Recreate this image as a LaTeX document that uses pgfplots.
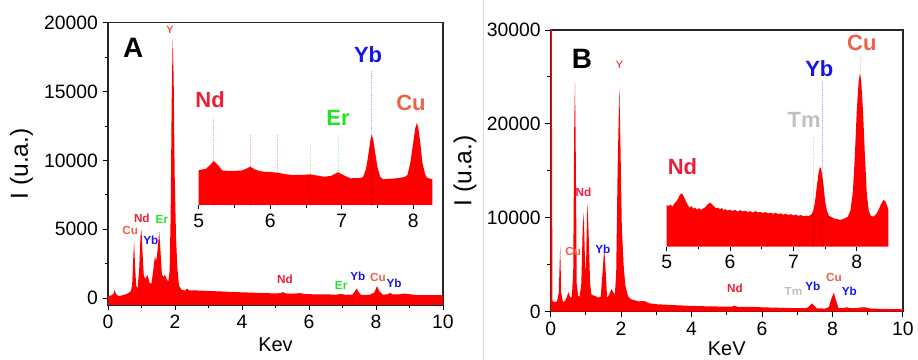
\documentclass[border=0pt]{standalone}
\usepackage{pgfplots}
\pgfplotsset{compat=1.18}
\usepackage{fontspec}
\setmainfont{Liberation Sans}
\definecolor{ndc}{RGB}{232,32,58}
\definecolor{cuc}{RGB}{235,98,72}
\definecolor{ybc}{RGB}{22,22,232}
\definecolor{erc}{RGB}{34,228,34}
\definecolor{tmc}{RGB}{192,192,192}
\definecolor{sepc}{RGB}{220,220,220}
\pgfplotsset{
  mainax/.style={scale only axis, anchor=south west, xmin=0, xmax=10,
    xtick={0,2,...,10}, minor x tick num=1, minor y tick num=1,
    tick align=outside, tick pos=left, major tick length=4pt, minor tick length=2.5pt,
    axis line style={line width=0.9pt, black!85},
    every tick/.style={black, line width=0.7pt},
    ticklabel style={font=\fontsize{14.5}{16}\selectfont},
    /pgf/number format/1000 sep={}, /pgf/number format/assume math mode=true,
    scaled y ticks=false,
    xlabel style={font=\fontsize{15}{17}\selectfont, anchor=center},
    ylabel style={font=\fontsize{18.5}{20}\selectfont, anchor=center}},
  insax/.style={scale only axis, anchor=south west, ymin=0,
    axis x line*=bottom, hide y axis, x axis line style={draw=none},
    minor x tick num=1, tick align=outside, major tick length=3pt, minor tick length=2pt,
    every tick/.style={black, line width=0.6pt},
    ticklabel style={font=\fontsize{14.5}{16}\selectfont},
    /pgf/number format/assume math mode=true, clip=false},
}
\tikzset{
  lab/.style={font=\fontsize{8.8}{10}\selectfont\bfseries, anchor=center, inner sep=0pt},
  blab/.style={font=\fontsize{16.5}{18}\selectfont\bfseries, anchor=center, inner sep=0pt},
  faint/.style={line width=0.3pt, opacity=0.35, densely dotted},
}
\begin{document}
\begin{tikzpicture}
\useasboundingbox (0pt,0pt) rectangle (688.5pt,270pt);
\draw[sepc, line width=0.6pt] (362.5pt,0pt) -- (362.5pt,270pt);
% ---------------- Panel A ----------------
\begin{axis}[mainax, at={(81pt,41.25pt)}, width=251.25pt, height=211.7pt,
  ymin=-500, ymax=20000, ytick={0,5000,10000,15000,20000},
  xlabel={Kev}, ylabel={I (u.a.)},
  xlabel style={at={(axis description cs:0.5,-0.142)}},
  ylabel style={at={(axis description cs:-0.258,0.5)}}]
\addplot[fill=red, draw=none] coordinates {
(0,-500) (0.0,150) (0.1,200) (0.16,300) (0.2,600) (0.24,300) (0.3,150) (0.4,180)
(0.5,250) (0.6,350) (0.68,500) (0.72,900) (0.76,3200) (0.78,4150) (0.80,2800)
(0.84,900) (0.88,700) (0.93,2000) (0.97,4500) (1.0,4950) (1.03,3300) (1.07,1600)
(1.12,1400) (1.17,1700) (1.2,1500) (1.25,1050) (1.3,1100) (1.35,2000) (1.4,3000)
(1.44,2700) (1.48,3500) (1.53,4800) (1.57,3300) (1.61,1700) (1.66,1550) (1.7,1700)
(1.75,1400) (1.8,1200) (1.84,2000) (1.87,6000) (1.9,14000) (1.93,18900) (1.96,16000)
(1.99,9000) (2.03,4500) (2.07,2200) (2.12,900) (2.2,600) (2.3,550) (2.36,700)
(2.42,560) (2.6,560) (3.0,520) (3.5,470) (4.0,420) (4.5,380) (5.0,340) (5.15,360)
(5.22,430) (5.3,340) (5.5,320) (5.72,360) (5.9,300) (6.2,270) (6.56,280) (6.8,240)
(6.95,300) (7.1,240) (7.3,260) (7.37,500) (7.42,700) (7.48,450) (7.55,230) (7.8,230)
(7.95,400) (8.03,870) (8.1,500) (8.2,250) (8.35,280) (8.42,370) (8.5,280) (8.7,280)
(8.85,330) (8.95,300) (9.2,220) (9.6,220) (10,220) (10,-500)} -- cycle;
\node[lab, text=black, font=\fontsize{21}{24}\selectfont\bfseries] at (axis cs:0.75,18210) {A};
\node[lab, text=red, font=\fontsize{8}{9}\selectfont] at (axis cs:1.85,19470) {Y};
\node[lab, text=cuc] at (axis cs:0.66,4940) {Cu};
\node[lab, text=ndc] at (axis cs:1.01,5810) {Nd};
\node[lab, text=ybc] at (axis cs:1.28,4210) {Yb};
\node[lab, text=erc] at (axis cs:1.61,5740) {Er};
\node[lab, text=ndc] at (axis cs:5.28,1380) {Nd};
\node[lab, text=erc] at (axis cs:6.96,940) {Er};
\node[lab, text=ybc] at (axis cs:7.46,1600) {Yb};
\node[lab, text=cuc] at (axis cs:8.06,1530) {Cu};
\node[lab, text=ybc] at (axis cs:8.54,1090) {Yb};
\end{axis}
% inset A
\begin{axis}[insax, at={(149pt,116.25pt)}, width=175.35pt, height=127.5pt,
  xmin=5, xmax=8.27, ymax=170, xtick={5,6,7,8}]
\addplot[ndc, faint] coordinates {(5.21,0) (5.21,88)};
\addplot[ndc, faint] coordinates {(5.72,0) (5.72,70)};
\addplot[ndc, faint] coordinates {(6.1,0) (6.1,70)};
\addplot[erc, faint] coordinates {(6.56,0) (6.56,62)};
\addplot[erc, faint] coordinates {(6.95,0) (6.95,70)};
\addplot[ybc, faint] coordinates {(7.42,0) (7.42,135)};
\addplot[fill=red, draw=none] coordinates {
(5,0) (5,35) (5.1,36) (5.16,40) (5.21,44) (5.27,40) (5.33,34.5) (5.45,34) (5.6,34.5)
(5.66,36) (5.72,38.3) (5.8,35) (5.9,33.3) (6.0,33) (6.1,32.3) (6.2,31) (6.3,30)
(6.45,30) (6.56,30.7) (6.65,29.5) (6.75,28.3) (6.85,29) (6.95,32.7) (7.05,29)
(7.12,26.7) (7.26,27) (7.30,28) (7.34,36) (7.37,49) (7.40,64) (7.42,70) (7.44,66)
(7.47,52) (7.50,38) (7.54,28) (7.58,25.7) (7.77,26.7) (7.88,28) (7.92,30) (7.96,42)
(8.0,62) (8.03,77) (8.05,81.7) (8.07,78) (8.10,62) (8.13,42) (8.17,30) (8.20,27)
(8.27,25.7) (8.27,0)} -- cycle;
\addplot[black, line width=0.3pt, opacity=0.12] coordinates {(6.56,0) (6.56,30)};
\addplot[black, line width=0.3pt, opacity=0.12] coordinates {(7.42,0) (7.42,70)};
\node[blab, text=ndc] at (axis cs:5.16,105) {Nd};
\node[blab, text=erc] at (axis cs:6.95,87) {Er};
\node[blab, text=ybc] at (axis cs:7.37,150) {Yb};
\node[blab, text=cuc] at (axis cs:7.97,102) {Cu};
\end{axis}
% ---------------- Panel B ----------------
\begin{axis}[mainax, at={(413pt,36.2pt)}, width=264.2pt, height=211.3pt,
  ymin=0, ymax=30000, ytick={0,10000,20000,30000},
  xlabel={KeV}, ylabel={I (u.a.)},
  xlabel style={at={(axis description cs:0.5,-0.13)}},
  ylabel style={at={(axis description cs:-0.243,0.5)}}]
\addplot[fill=red, draw=none] coordinates {
(0,0) (0,31000) (0.03,31000) (0.05,1200) (0.1,1000) (0.18,1100) (0.23,2000) (0.27,7000)
(0.3,2000) (0.35,1000) (0.42,1200) (0.48,1800) (0.51,2100) (0.55,1500) (0.6,1600)
(0.64,4000) (0.67,20000) (0.69,24500) (0.71,18000) (0.74,3000) (0.78,1700) (0.82,1600)
(0.87,3000) (0.91,9000) (0.94,10500) (0.97,6000) (1.0,4000) (1.03,10000) (1.05,11500)
(1.08,8000) (1.12,3000) (1.16,1800) (1.25,1700) (1.35,1500) (1.42,1600) (1.47,4000)
(1.52,6700) (1.56,4500) (1.6,1500) (1.66,1800) (1.72,2400) (1.76,2200) (1.82,1800)
(1.86,4000) (1.9,15000) (1.95,23900) (1.98,18000) (2.02,9000) (2.07,5000) (2.12,2800)
(2.2,1600) (2.3,1300) (2.5,1100) (2.65,1150) (2.8,900) (3.0,800) (3.5,700) (4.0,620)
(4.5,570) (5.0,540) (5.15,550) (5.22,650) (5.3,530) (5.7,520) (6.0,470) (6.5,420)
(7.0,380) (7.2,370) (7.3,450) (7.37,700) (7.42,900) (7.47,700) (7.55,350) (7.8,340)
(7.9,500) (7.96,1300) (8.04,2030) (8.1,1200) (8.17,400) (8.3,380) (8.4,480) (8.5,380)
(8.7,380) (8.85,480) (8.95,450) (9.1,330) (9.5,300) (10,260) (10,0)} -- cycle;
\node[lab, text=black, font=\fontsize{21}{24}\selectfont\bfseries] at (axis cs:0.89,26900) {B};
\node[lab, text=red, font=\fontsize{8}{9}\selectfont] at (axis cs:1.95,26270) {Y};
\node[lab, text=ndc] at (axis cs:0.93,12670) {Nd};
\node[lab, text=cuc] at (axis cs:0.64,6390) {Cu};
\node[lab, text=ybc] at (axis cs:1.48,6680) {Yb};
\node[lab, text=ndc] at (axis cs:5.23,2490) {Nd};
\node[lab, text=tmc] at (axis cs:6.89,2130) {Tm};
\node[lab, text=ybc] at (axis cs:7.44,2660) {Yb};
\node[lab, text=cuc] at (axis cs:8.04,3660) {Cu};
\node[lab, text=ybc] at (axis cs:8.48,2200) {Yb};
\end{axis}
% inset B
\begin{axis}[insax, at={(500pt,85pt)}, width=166.3pt, height=165pt,
  xmin=5, xmax=8.5, ymax=220, xtick={5,6,7,8}]
\addplot[tmc, faint, opacity=0.6] coordinates {(7.31,0) (7.31,110)};
\addplot[ybc, faint] coordinates {(7.46,0) (7.46,165)};
\addplot[cuc, faint] coordinates {(8.06,0) (8.06,190)};
\addplot[fill=red, draw=none] coordinates {
(5.00,0) (5.00,41.7) (5.03,40.5) (5.06,42) (5.09,40) (5.12,43) (5.15,45) (5.18,48)
(5.21,52) (5.24,53.4) (5.27,50) (5.30,46) (5.33,42) (5.36,39) (5.39,40.5) (5.42,38)
(5.45,39) (5.48,37) (5.51,38.5) (5.54,36.7) (5.57,38) (5.60,39) (5.63,41) (5.66,43)
(5.69,44) (5.72,42) (5.75,40) (5.78,38.5) (5.81,39) (5.84,37.4) (5.87,38.5) (5.90,36.5)
(5.93,37.5) (5.96,36) (6.00,37) (6.04,35.7) (6.08,36.8) (6.12,35) (6.16,36.5) (6.20,35.2)
(6.24,36) (6.28,34.5) (6.32,35.5) (6.36,34) (6.40,35.6) (6.44,34.2) (6.48,34.8)
(6.52,33.5) (6.56,34.6) (6.60,33.2) (6.64,34) (6.68,32.8) (6.72,33.9) (6.76,32.5)
(6.80,33.3) (6.84,32) (6.88,33) (6.92,31.7) (6.96,32.6) (7.00,31.2) (7.04,32) (7.08,30.8)
(7.12,31.6) (7.16,30.3) (7.20,31) (7.24,30.5) (7.28,32) (7.31,35) (7.34,44) (7.37,60)
(7.40,75) (7.42,80) (7.44,77) (7.47,65) (7.50,46) (7.53,36) (7.56,31) (7.60,29.5)
(7.65,28) (7.70,27.5) (7.74,26.7) (7.78,27.5) (7.82,28.5) (7.86,30) (7.90,36) (7.94,55)
(7.97,90) (8.00,135) (8.03,165) (8.05,173.4) (8.07,166) (8.10,135) (8.13,90) (8.16,52)
(8.19,36) (8.22,31) (8.26,30) (8.30,32) (8.34,36) (8.38,42) (8.42,46.7) (8.45,45.5)
(8.48,41) (8.50,36.5) (8.50,0)} -- cycle;
\addplot[black, line width=0.3pt, opacity=0.12] coordinates {(7.31,0) (7.31,35)};
\addplot[black, line width=0.3pt, opacity=0.12] coordinates {(7.46,0) (7.46,70)};
\node[blab, text=ndc] at (axis cs:5.25,80) {Nd};
\node[blab, text=tmc] at (axis cs:7.17,126.7) {Tm};
\node[blab, text=ybc] at (axis cs:7.41,178.4) {Yb};
\node[blab, text=cuc] at (axis cs:8.08,203.4) {Cu};
\end{axis}
\end{tikzpicture}
\end{document}
